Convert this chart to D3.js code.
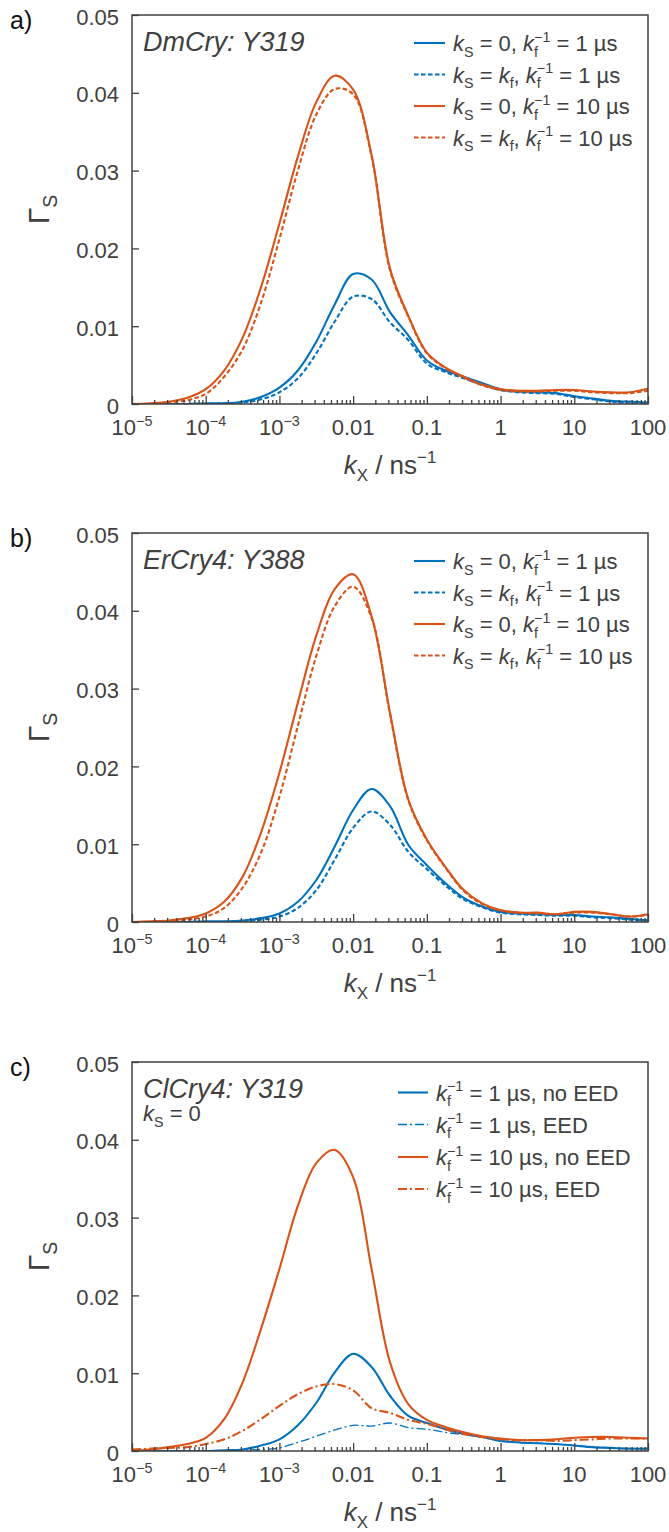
<!DOCTYPE html>
<html><head><meta charset="utf-8">
<script src="https://cdn.jsdelivr.net/npm/d3@7"></script>
<style>
body{margin:0;background:#fff}
text{white-space:pre}
</style>
</head><body>
<svg id="chart" width="669" height="1532"></svg>
<script>
// ---- x grid: log10(k_X / ns^-1) ----
const logK = [-5,-4.75,-4.5,-4.25,-4,-3.75,-3.5,-3.25,-3,-2.75,-2.5,-2.25,-2,-1.75,-1.5,-1.25,-1,-0.75,-0.5,-0.25,0,0.25,0.5,0.75,1,1.25,1.5,1.75,2];

// ---- panel a) DmCry: Y319 ----
const aBlueSolid   = [0,0,0,0,0.0001,0.0001,0.0003,0.0009,0.0021,0.0043,0.0080,0.0128,0.0167,0.0160,0.0118,0.0088,0.0056,0.0043,0.0035,0.0027,0.0019,0.0016,0.0015,0.0014,0.0010,0.0007,0.0004,0.0003,0.0002];
const aBlueDashed  = [0,0,0,0,0,0.0001,0.0002,0.0006,0.0015,0.0033,0.0065,0.0106,0.0138,0.0135,0.0105,0.0082,0.0052,0.0041,0.0033,0.0025,0.0018,0.0015,0.0014,0.0013,0.0009,0.0006,0.0003,0.0002,0.0001];
const aOrangeSolid = [0,0.0001,0.0003,0.0008,0.0019,0.0043,0.0085,0.0150,0.0232,0.0318,0.0388,0.0422,0.0404,0.0320,0.0174,0.0113,0.0066,0.0047,0.0035,0.0025,0.0019,0.0017,0.0017,0.0018,0.0018,0.0016,0.0015,0.0015,0.0020];
const aOrangeDashed= [0,0,0.0002,0.0005,0.0013,0.0035,0.0070,0.0130,0.0212,0.0300,0.0372,0.0405,0.0398,0.0318,0.0172,0.0112,0.0065,0.0046,0.0034,0.0024,0.0018,0.0016,0.0016,0.0017,0.0017,0.0015,0.0014,0.0014,0.0017];

// ---- panel b) ErCry4: Y388 ----
const bBlueSolid   = [0,0,0,0,0.0001,0.0001,0.0002,0.0005,0.0011,0.0026,0.0054,0.0097,0.0144,0.0171,0.0149,0.0099,0.0073,0.0050,0.0031,0.0020,0.0013,0.0011,0.0010,0.0009,0.0009,0.0007,0.0006,0.0004,0.0002];
const bBlueDashed  = [0,0,0,0,0,0,0.0001,0.0003,0.0007,0.0018,0.0041,0.0080,0.0121,0.0142,0.0125,0.0090,0.0068,0.0047,0.0029,0.0019,0.0012,0.0010,0.0009,0.0008,0.0008,0.0006,0.0005,0.0003,0.0002];
const bOrangeSolid = [0,0.0001,0.0002,0.0005,0.0011,0.0026,0.0058,0.0115,0.0192,0.0282,0.0368,0.0428,0.0447,0.0393,0.0269,0.0157,0.0106,0.0071,0.0041,0.0024,0.0015,0.0012,0.0012,0.0010,0.0013,0.0013,0.0010,0.0007,0.0010];
const bOrangeDashed= [0,0,0.0001,0.0003,0.0007,0.0018,0.0044,0.0089,0.0161,0.0252,0.0342,0.0406,0.0431,0.0391,0.0267,0.0156,0.0105,0.0070,0.0040,0.0023,0.0015,0.0012,0.0011,0.0010,0.0012,0.0012,0.0010,0.0007,0.0009];

// ---- panel c) ClCry4: Y319 ----
const cBlueNoEED   = [0,0,0,0,0,0.0001,0.0002,0.0007,0.0015,0.0033,0.0062,0.0101,0.0125,0.0108,0.0071,0.0045,0.0036,0.0028,0.0022,0.0018,0.0013,0.0011,0.0010,0.0009,0.0007,0.0005,0.0004,0.0003,0.0003];
const cBlueEED     = [0,0,0,0,0,0,0.0001,0.0002,0.0004,0.0011,0.0019,0.0027,0.0033,0.0032,0.0036,0.0030,0.0028,0.0024,0.0021,0.0018,0.0013,0.0011,0.0010,0.0009,0.0007,0.0005,0.0004,0.0003,0.0003];
const cOrangeNoEED = [0,0.0002,0.0005,0.0009,0.0017,0.0041,0.0088,0.0157,0.0234,0.0315,0.0370,0.0387,0.0352,0.0234,0.0114,0.0060,0.0040,0.0031,0.0024,0.0019,0.0016,0.0014,0.0014,0.0015,0.0017,0.0018,0.0018,0.0017,0.0016];
const cOrangeEED   = [0.0002,0.0003,0.0004,0.0005,0.0009,0.0015,0.0026,0.0041,0.0058,0.0073,0.0083,0.0086,0.0078,0.0055,0.0049,0.0040,0.0035,0.0028,0.0022,0.0018,0.0015,0.0014,0.0014,0.0013,0.0014,0.0015,0.0016,0.0016,0.0016];

// ---- ticks ----
const yTicks = [0,0.01,0.02,0.03,0.04,0.05];
const yTickLabels = ["0","0.01","0.02","0.03","0.04","0.05"];
const xMajor = [1e-5,1e-4,1e-3,1e-2,1e-1,1,10,100];
const xTickBase = ["10","10","10","0.01","0.1","1","10","100"];
const xTickSup  = ["−5","−4","−3","","","","",""];

// ---- texts ----
const panelLetters = ["a)","b)","c)"];
const panelTitles = ["DmCry: Y319","ErCry4: Y388","ClCry4: Y319"];
const legendAB = [
  [{t:"k",it:1},{t:"S",sub:1},{t:" = 0, "},{t:"k",it:1},{t:"f",sub:1},{t:"−1",sup:1,stack:1},{t:" = 1 µs"}],
  [{t:"k",it:1},{t:"S",sub:1},{t:" = "},{t:"k",it:1},{t:"f",sub:1},{t:", "},{t:"k",it:1},{t:"f",sub:1},{t:"−1",sup:1,stack:1},{t:" = 1 µs"}],
  [{t:"k",it:1},{t:"S",sub:1},{t:" = 0, "},{t:"k",it:1},{t:"f",sub:1},{t:"−1",sup:1,stack:1},{t:" = 10 µs"}],
  [{t:"k",it:1},{t:"S",sub:1},{t:" = "},{t:"k",it:1},{t:"f",sub:1},{t:", "},{t:"k",it:1},{t:"f",sub:1},{t:"−1",sup:1,stack:1},{t:" = 10 µs"}]
];
const legendC = [
  [{t:"k",it:1},{t:"f",sub:1},{t:"−1",sup:1,stack:1},{t:" = 1 µs, no EED"}],
  [{t:"k",it:1},{t:"f",sub:1},{t:"−1",sup:1,stack:1},{t:" = 1 µs, EED"}],
  [{t:"k",it:1},{t:"f",sub:1},{t:"−1",sup:1,stack:1},{t:" = 10 µs, no EED"}],
  [{t:"k",it:1},{t:"f",sub:1},{t:"−1",sup:1,stack:1},{t:" = 10 µs, EED"}]
];
const ksZero = [{t:"k",it:1},{t:"S",sub:1},{t:" = 0"}];
const xLabel = [{t:"k",it:1},{t:"X",sub:1},{t:" / ns"},{t:"−1",sup:1}];
const yLabel = [{t:"Γ"},{t:"S",sub:1}];

// ---- styles / layout ----
const blue = "#0072BD", orange = "#D95319", ink = "#404040";
const FONT = "'Liberation Sans', Arial, Helvetica, sans-serif";
const X0 = 132, X1 = 648;
const solid = null, dashed = "4.5,2.5", dashdot = "9,3,2,3";

const panels = [
  {top:15, bottom:404, rows:[28,59.5,91,122.5], legX:[414,445], legText:453, legend:legendAB,
   series:[{v:aBlueSolid,c:blue,d:solid,w:2.1},{v:aBlueDashed,c:blue,d:dashed,w:2.1},{v:aOrangeSolid,c:orange,d:solid,w:2.1},{v:aOrangeDashed,c:orange,d:dashed,w:2.1}]},
  {top:533, bottom:922, rows:[28,59.5,91,122.5], legX:[414,445], legText:453, legend:legendAB,
   series:[{v:bBlueSolid,c:blue,d:solid,w:2.1},{v:bBlueDashed,c:blue,d:dashed,w:2.1},{v:bOrangeSolid,c:orange,d:solid,w:2.1},{v:bOrangeDashed,c:orange,d:dashed,w:2.1}]},
  {top:1062, bottom:1451, rows:[30.5,62.5,95,127], legX:[398,428], legText:436, legend:legendC, extra:ksZero,
   series:[{v:cBlueNoEED,c:blue,d:solid,w:2.1},{v:cBlueEED,c:blue,d:dashdot,w:1.3},{v:cOrangeNoEED,c:orange,d:solid,w:2.1},{v:cOrangeEED,c:orange,d:dashdot,w:2.1}]}
];

function rich(textSel, parts, fs) {
  let shift = 0, lastW = 0;
  parts.forEach(p => {
    const ts = textSel.append("tspan").text(p.t);
    let target = 0, size = fs;
    if (p.sub) { target = fs * 0.27; size = fs * 0.65; }
    if (p.sup) { target = -fs * 0.42; size = fs * 0.65; }
    ts.attr("font-size", size);
    if (p.it) ts.attr("font-style", "italic");
    if (target !== shift) { ts.attr("dy", target - shift); shift = target; }
    if (p.stack) ts.attr("dx", -lastW);
    lastW = ts.node().getComputedTextLength();
  });
}

const svg = d3.select("#chart").attr("font-family", FONT);
const x = d3.scaleLog().domain([1e-5, 100]).range([X0, X1]);

const minorTicks = [];
for (let e = -5; e < 2; e++) for (let m = 2; m <= 9; m++) minorTicks.push(m * Math.pow(10, e));

panels.forEach((p, i) => {
  const y = d3.scaleLinear().domain([0, 0.05]).range([p.bottom, p.top]);
  const g = svg.append("g");

  svg.append("clipPath").attr("id", "clip" + i).append("rect")
    .attr("x", X0).attr("y", p.top).attr("width", X1 - X0).attr("height", p.bottom - p.top);

  const line = d3.line()
    .x(d => x(Math.pow(10, d[0])))
    .y(d => y(d[1]))
    .curve(d3.curveCatmullRom.alpha(0.5));

  p.series.forEach(s => {
    g.append("path")
      .datum(logK.map((L, j) => [L, s.v[j]]))
      .attr("d", line).attr("fill", "none")
      .attr("stroke", s.c).attr("stroke-width", s.w)
      .attr("stroke-dasharray", s.d)
      .attr("clip-path", `url(#clip${i})`);
  });

  // bottom axis: major and minor inward ticks
  const axB = g.append("g").attr("transform", `translate(0,${p.bottom})`)
    .call(d3.axisBottom(x).tickValues(xMajor).tickSize(-8).tickFormat(""));
  const axBm = g.append("g").attr("transform", `translate(0,${p.bottom})`)
    .call(d3.axisBottom(x).tickValues(minorTicks).tickSize(-4).tickFormat(""));
  [axB, axBm].forEach(a => { a.select(".domain").remove(); a.selectAll("line").attr("stroke", ink).attr("stroke-width", 1.3); });

  xMajor.forEach((v, j) => {
    const t = g.append("text").attr("x", x(v)).attr("y", p.bottom + 31)
      .attr("text-anchor", "middle").attr("fill", ink);
    const parts = [{t: xTickBase[j]}];
    if (xTickSup[j]) parts.push({t: xTickSup[j], sup: 1});
    rich(t, parts, 22);
  });

  // left axis
  const axL = g.append("g").attr("transform", `translate(${X0},0)`)
    .call(d3.axisLeft(y).tickValues(yTicks).tickSize(-7).tickPadding(13).tickFormat((d, j) => yTickLabels[j]));
  axL.select(".domain").remove();
  axL.selectAll("line").attr("stroke", ink).attr("stroke-width", 1.3);
  axL.selectAll("text").attr("font-size", 22).attr("fill", ink).attr("font-family", FONT).attr("dy", 9);

  // box
  g.append("rect").attr("x", X0).attr("y", p.top).attr("width", X1 - X0).attr("height", p.bottom - p.top)
    .attr("fill", "none").attr("stroke", ink).attr("stroke-width", 1.5);

  // axis labels
  const xl = g.append("text").attr("x", (X0 + X1) / 2).attr("y", p.bottom + 70)
    .attr("text-anchor", "middle").attr("fill", ink);
  rich(xl, xLabel, 26);
  const cy = (p.top + p.bottom) / 2;
  const yl = g.append("text").attr("transform", `translate(49,${cy}) rotate(-90)`)
    .attr("text-anchor", "middle").attr("fill", ink);
  rich(yl, yLabel, 30);

  // panel letter
  g.append("text").attr("x", 10).attr("y", p.top + 14).attr("font-size", 25).attr("fill", "#111").text(panelLetters[i]);

  // title
  g.append("text").attr("x", 143).attr("y", p.top + 36).attr("font-size", 27)
    .attr("font-style", "italic").attr("fill", ink).text(panelTitles[i]);
  if (p.extra) {
    const t = g.append("text").attr("x", 143).attr("y", p.top + 59).attr("fill", ink);
    rich(t, p.extra, 22);
  }

  // legend
  p.legend.forEach((parts, j) => {
    const s = p.series[j];
    const ry = p.top + p.rows[j];
    g.append("line").attr("x1", p.legX[0]).attr("x2", p.legX[1]).attr("y1", ry).attr("y2", ry)
      .attr("stroke", s.c).attr("stroke-width", s.w).attr("stroke-dasharray", s.d);
    const t = g.append("text").attr("x", p.legText).attr("y", ry + 8).attr("fill", ink);
    rich(t, parts, 22);
  });
});
</script>
</body></html>
